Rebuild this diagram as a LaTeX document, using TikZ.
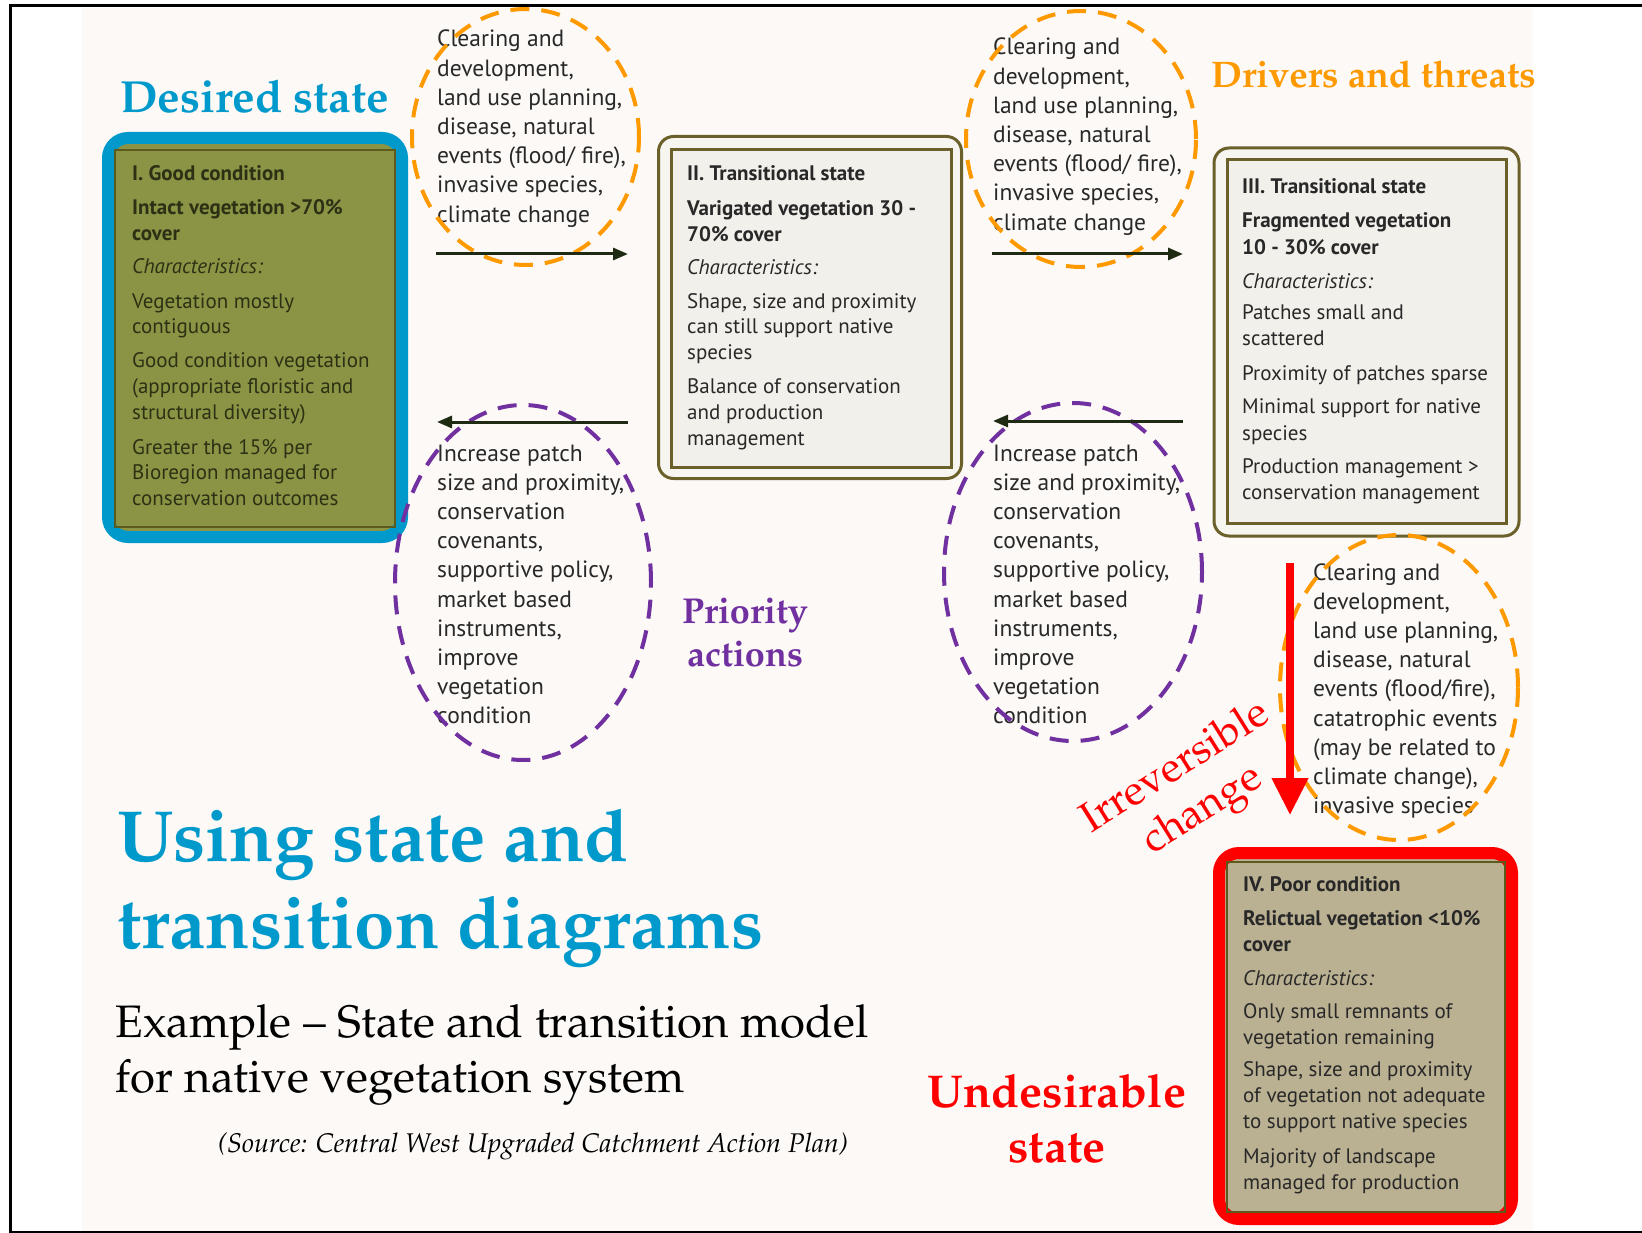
\documentclass[tikz,border=0pt]{standalone}
\usepackage[T1]{fontenc}
\usepackage{fontspec}
\usetikzlibrary{arrows.meta,shapes.geometric}
\newfontfamily\bxf{PT Sans}
\newcommand\palf{\fontencoding{T1}\fontfamily{ppl}\selectfont}
\definecolor{sblue}{RGB}{0,153,204}
\definecolor{orng}{RGB}{255,153,0}
\definecolor{purp}{RGB}{112,48,160}
\definecolor{cream}{RGB}{252,249,246}
\definecolor{olfill}{RGB}{139,148,68}
\definecolor{oldark}{RGB}{92,90,28}
\definecolor{oltext}{RGB}{45,48,20}
\definecolor{brownb}{RGB}{107,95,42}
\definecolor{lightfill}{RGB}{242,240,234}
\definecolor{ringfill}{RGB}{247,245,240}
\definecolor{tanfill}{RGB}{186,176,146}
\definecolor{btxt}{RGB}{40,40,40}
\definecolor{arrc}{RGB}{30,43,18}
\begin{document}
\begin{tikzpicture}[x=1pt,y=-1pt,
  btext/.style={anchor=base west, inner sep=0pt, font=\bxf\fontsize{21}{25.8}\selectfont, text=btxt},
  etext/.style={anchor=base west, inner sep=0pt, font=\bxf\fontsize{23.5}{29.2}\selectfont, text=btxt},
  orangeell/.style={ellipse, draw=orng, line width=4pt, dash pattern=on 19pt off 12pt, inner sep=0pt},
  purpell/.style={ellipse, draw=purp, line width=4pt, dash pattern=on 19pt off 12pt, inner sep=0pt},
  outerbox/.style={draw=brownb, line width=3pt, rounded corners=15pt, fill=ringfill, inner sep=0pt},
  innerbox/.style={draw=brownb, line width=3pt, fill=lightfill, inner sep=0pt},
  blkarrow/.style={draw=arrc, line width=3pt, -{Triangle[length=15pt,width=12pt]}},
  ttl/.style={inner sep=0pt, anchor=base west}
]
\useasboundingbox (0,0) rectangle (1642,1233);
\fill[white] (0,0) rectangle (1642,1233);
\fill[cream] (82,8) rectangle (1533,1231);
\draw[black, line width=3pt] (1642,6) -- (10,6) -- (10,1232) -- (1642,1232);

% Box I
\node[draw=sblue, line width=12pt, rounded corners=20pt, fill=olfill, minimum width=294pt, minimum height=399pt, inner sep=0pt] (s1) at (255,337.5) {};
\node[draw=oldark, line width=2.5pt, minimum width=280pt, minimum height=377pt, inner sep=0pt] (s1in) at (255,338.5) {};
\node[btext, text=oltext] (t1) at (132,181) {\begin{tabular}[t]{@{}l@{}}
\textbf{I. Good condition}\\[8pt]
\textbf{Intact vegetation >70\%}\\
\textbf{cover}\\[7pt]
\textit{Characteristics:}\\[9pt]
Vegetation mostly\\
contiguous\\[8pt]
Good condition vegetation\\
(appropriate floristic and\\
structural diversity)\\[9pt]
Greater the 15\% per\\
Bioregion managed for\\
conservation outcomes
\end{tabular}};

% Box II
\node[outerbox, minimum width=303pt, minimum height=342pt] (s2) at (810,307.5) {};
\node[innerbox, minimum width=280pt, minimum height=317pt] (s2in) at (811,308.5) {};
\node[btext] (t2) at (687,181) {\begin{tabular}[t]{@{}l@{}}
\textbf{II. Transitional state}\\[9pt]
\textbf{Varigated vegetation 30 -}\\
\textbf{70\% cover}\\[7pt]
\textit{Characteristics:}\\[8pt]
Shape, size and proximity\\
can still support native\\
species\\[8pt]
Balance of conservation\\
and production\\
management
\end{tabular}};

% Box III
\node[outerbox, minimum width=305pt, minimum height=388pt] (s3) at (1366.5,342) {};
\node[innerbox, minimum width=279pt, minimum height=363pt] (s3in) at (1366.5,341.5) {};
\node[btext, font=\bxf\fontsize{21}{26.8}\selectfont] (t3) at (1242,194) {\begin{tabular}[t]{@{}l@{}}
\textbf{III. Transitional state}\\[7pt]
\textbf{Fragmented vegetation}\\
\textbf{10 - 30\% cover}\\[7pt]
\textit{Characteristics:}\\[4pt]
Patches small and\\
scattered\\[8pt]
Proximity of patches sparse\\[6pt]
Minimal support for native\\
species\\[6pt]
Production management >\\
conservation management
\end{tabular}};

% Box IV
\node[draw=red, line width=12pt, rounded corners=20pt, fill=tanfill, minimum width=293pt, minimum height=366pt, inner sep=0pt] (s4) at (1365.5,1036) {};
\node[draw=oldark, line width=2pt, minimum width=278pt, minimum height=350pt, inner sep=0pt] (s4in) at (1366,1037) {};
\node[btext] (t4) at (1243,891) {\begin{tabular}[t]{@{}l@{}}
\textbf{IV. Poor condition}\\[9pt]
\textbf{Relictual vegetation <10\%}\\
\textbf{cover}\\[8pt]
\textit{Characteristics:}\\[7pt]
Only small remnants of\\
vegetation remaining\\[7pt]
Shape, size and proximity\\
of vegetation not adequate\\
to support native species\\[9pt]
Majority of landscape\\
managed for production
\end{tabular}};

% Driver texts
\node[etext] (e1) at (437,47) {\begin{tabular}[t]{@{}l@{}}
Clearing and\\ development,\\ land use planning,\\ disease, natural\\ events (flood/ fire),\\ invasive species,\\ climate change
\end{tabular}};
\node[etext] (e2) at (993,55) {\begin{tabular}[t]{@{}l@{}}
Clearing and\\ development,\\ land use planning,\\ disease, natural\\ events (flood/ fire),\\ invasive species,\\ climate change
\end{tabular}};
\node[etext] (e3) at (1313,580) {\begin{tabular}[t]{@{}l@{}}
Clearing and\\ development,\\ land use planning,\\ disease, natural\\ events (flood/fire),\\ catatrophic events\\ (may be related to\\ climate change),\\ invasive species
\end{tabular}};
% Action texts
\node[etext] (p1) at (437,461) {\begin{tabular}[t]{@{}l@{}}
Increase patch\\ size and proximity,\\ conservation\\ covenants,\\ supportive policy,\\ market based\\ instruments,\\ improve\\ vegetation\\ condition
\end{tabular}};
\node[etext] (p2) at (993,461) {\begin{tabular}[t]{@{}l@{}}
Increase patch\\ size and proximity,\\ conservation\\ covenants,\\ supportive policy,\\ market based\\ instruments,\\ improve\\ vegetation\\ condition
\end{tabular}};

% Ellipses
\node[orangeell, minimum width=227pt, minimum height=256pt] (d1) at (525.5,137) {};
\node[orangeell, minimum width=230pt, minimum height=256pt] (d2) at (1081,139) {};
\node[orangeell, minimum width=238pt, minimum height=305pt] (d3) at (1399,687.5) {};
\node[purpell, minimum width=256pt, minimum height=355pt] (a1) at (523,582.5) {};
\node[purpell, minimum width=258pt, minimum height=338pt] (a2) at (1073,572) {};

% Arrows
\coordinate (f1s) at (436,254); \coordinate (f1e) at (628,254);
\coordinate (f2s) at (992,254); \coordinate (f2e) at (1183,254);
\coordinate (b1s) at (628,422); \coordinate (b1e) at (437,422);
\coordinate (b2s) at (1183,421); \coordinate (b2e) at (993,421);
\draw[blkarrow] (f1s) -- (f1e);
\draw[blkarrow] (f2s) -- (f2e);
\draw[blkarrow] (b1s) -- (b1e);
\draw[blkarrow] (b2s) -- (b2e);
\coordinate (rs) at (1290,563); \coordinate (re) at (1290,815);
\draw[red, line width=7.5pt, -{Triangle[length=37pt,width=35pt]}] (rs) -- (re);

% Titles
\node[ttl, text=sblue, font=\palf\bfseries\fontsize{45}{55}\selectfont] (desired) at (120,113) {Desired state};
\node[ttl, text=orng, font=\palf\bfseries\fontsize{37}{44}\selectfont] (drivers) at (1211,88) {Drivers and threats};
\node[inner sep=0pt, anchor=base, text=purp, font=\palf\bfseries\fontsize{36}{43}\selectfont] (prio) at (745,623) {\begin{tabular}[t]{@{}c@{}}Priority\\actions\end{tabular}};
\node[ttl, text=sblue, font=\palf\bfseries\fontsize{72.5}{87}\selectfont] (using) at (117,861) {\begin{tabular}[t]{@{}l@{}}Using state and\\transition diagrams\end{tabular}};
\node[ttl, text=black, font=\palf\fontsize{45.5}{55}\selectfont] (example) at (115,1037) {\begin{tabular}[t]{@{}l@{}}Example \textendash{} State and transition model\\for native vegetation system\end{tabular}};
\node[ttl, text=black, font=\palf\itshape\fontsize{27}{32}\selectfont] (source) at (218,1152) {(Source: Central West Upgraded Catchment Action Plan)};
\node[inner sep=0pt, anchor=base, text=red, font=\palf\bfseries\fontsize{46}{55}\selectfont] (undes) at (1057,1107) {\begin{tabular}[t]{@{}c@{}}Undesirable\\state\end{tabular}};
\node[inner sep=0pt, rotate=32, text=red, font=\palf\fontsize{42}{50}\selectfont, align=center] (irr) at (1190,790) {Irreversible\\change};
\end{tikzpicture}
\end{document}
